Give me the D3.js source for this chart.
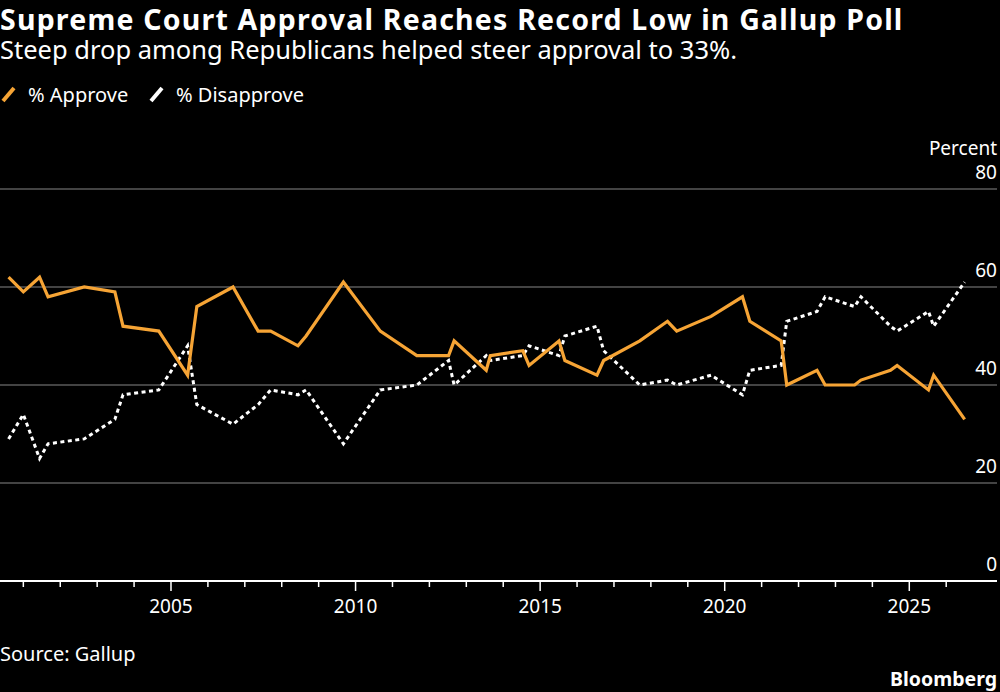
<html>
<head>
<meta charset="utf-8">
<script src="https://d3js.org/d3.v7.min.js"></script>
<style>
  body { margin: 0; background: #000; }
  text { font-family: "Noto Sans", sans-serif; fill: #fff; }
</style>
</head>
<body>
<svg width=1000 height=692></svg>

<script>

// poll dates as decimal years, values in percent
var dates = [2000.60, 2001.00, 2001.44, 2001.67, 2002.65, 2003.48, 2003.70, 2004.67,
  2005.45, 2005.70, 2006.68, 2007.36, 2007.70, 2008.44, 2008.66, 2009.67, 2010.67,
  2011.66, 2012.52, 2012.67, 2013.54, 2013.65, 2014.53, 2014.70, 2015.51, 2015.67,
  2016.54, 2016.72, 2017.70, 2018.45, 2018.70, 2019.63, 2020.48, 2020.68, 2021.53,
  2021.68, 2022.50, 2022.72, 2023.52, 2023.69, 2024.49, 2024.67, 2025.52, 2025.66,
  2026.50];

var approve = [62, 59, 62, 58, 60, 59, 52, 51, 42, 56, 60, 51, 51, 48, 50, 61, 51,
  46, 46, 49, 43, 46, 47, 44, 49, 45, 42, 45, 49, 53, 51, 54, 58, 53, 49,
  40, 43, 40, 40, 41, 43, 44, 39, 42, 33];

var disapprove = [29, 34, 25, 28, 29, 33, 38, 39, 48, 36, 32, 36, 39, 38, 39, 28, 39,
  40, 45, 40, 46, 45, 46, 48, 46, 50, 52, 47, 40, 41, 40, 42, 38, 43, 44,
  53, 55, 58, 56, 58, 52, 51, 55, 52, 61];

var yTicks = [0, 20, 40, 60, 80];
var xLabels = [2005, 2010, 2015, 2020, 2025];

var orange = "#f6a435";
var svg = d3.select("svg");

var x = d3.scaleLinear().domain([2000.368, 2027.376]).range([0, 997]);
var y = d3.scaleLinear().domain([0, 80]).range([581, 189]);

// titles
svg.append("text").attr("x", 0).attr("y", 30)
  .style("font-weight", "bold").style("font-size", "28.5px").style("letter-spacing", "1.2px")
  .text("Supreme Court Approval Reaches Record Low in Gallup Poll");
svg.append("text").attr("x", 0).attr("y", 59)
  .style("font-size", "25.5px")
  .text("Steep drop among Republicans helped steer approval to 33%.");

// legend
var legend = [
  {label: "% Approve", color: orange, x: 0},
  {label: "% Disapprove", color: "#fff", x: 148}
];
legend.forEach(function(d) {
  svg.append("line")
    .attr("x1", d.x + 3).attr("y1", 101).attr("x2", d.x + 14).attr("y2", 88)
    .attr("stroke", d.color).attr("stroke-width", 4);
  svg.append("text").attr("x", d.x + 28).attr("y", 102)
    .style("font-size", "20px").text(d.label);
});

// gridlines + y labels
yTicks.forEach(function(t) {
  if (t > 0) {
    svg.append("line")
      .attr("x1", 0).attr("x2", 997).attr("y1", y(t)).attr("y2", y(t))
      .attr("stroke", "#5a5a5a").attr("stroke-width", 1.5);
  }
  svg.append("text").attr("x", 997).attr("y", y(t) - 10)
    .attr("text-anchor", "end").style("font-size", "19px").text(t);
});
svg.append("text").attr("x", 997).attr("y", y(80) - 34)
  .attr("text-anchor", "end").style("font-size", "19px").text("Percent");

// x axis
svg.append("line")
  .attr("x1", 0).attr("x2", 997).attr("y1", y(0)).attr("y2", y(0))
  .attr("stroke", "#fff").attr("stroke-width", 2);
d3.range(2001, 2027).forEach(function(yr) {
  var major = xLabels.indexOf(yr) > -1;
  svg.append("line")
    .attr("x1", x(yr)).attr("x2", x(yr))
    .attr("y1", y(0)).attr("y2", y(0) + (major ? 10 : 6))
    .attr("stroke", "#fff").attr("stroke-width", 1.5);
  if (major) {
    svg.append("text").attr("x", x(yr)).attr("y", 613)
      .attr("text-anchor", "middle").style("font-size", "19px").text(yr);
  }
});

// lines
var line = d3.line().x(function(d) { return x(d[0]); }).y(function(d) { return y(d[1]); });

svg.append("path")
  .attr("d", line(d3.zip(dates, disapprove)))
  .attr("fill", "none").attr("stroke", "#fff").attr("stroke-width", 3)
  .attr("stroke-dasharray", "4,3.5");

svg.append("path")
  .attr("d", line(d3.zip(dates, approve)))
  .attr("fill", "none").attr("stroke", orange).attr("stroke-width", 3.2)
  .attr("stroke-linejoin", "miter");

// footer
svg.append("text").attr("x", 0).attr("y", 661)
  .style("font-size", "20px").text("Source: Gallup");
svg.append("text").attr("x", 997).attr("y", 686)
  .attr("text-anchor", "end").style("font-weight", "bold").style("font-size", "19.5px")
  .text("Bloomberg");

</script>
</body>
</html>
